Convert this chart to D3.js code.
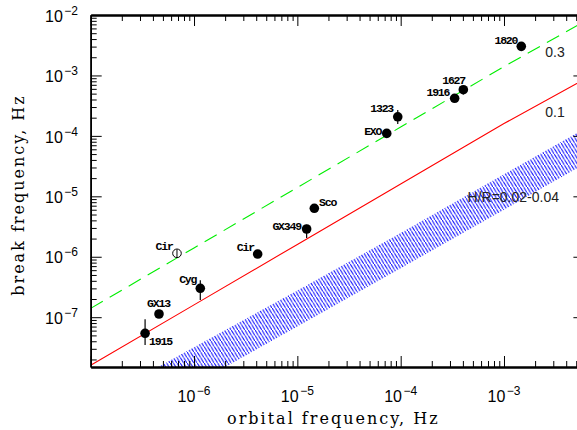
<!DOCTYPE html>
<html><head><meta charset="utf-8">
<script src="https://cdn.jsdelivr.net/npm/d3@7"></script>
<style>body{margin:0;background:#fff}svg{display:block}</style>
</head><body>
<svg id="c" width="577" height="430"></svg>
<script>
// ---- data ----
const sources   = ["1915","GX13","Cyg","Cir","Cir","GX349","Sco","EXO","1323","1916","1627","1820"];
const orbFreq   = [3.36e-7,4.58e-7,1.15e-6,6.84e-7,4.13e-6,1.23e-5,1.46e-5,7.33e-5,9.37e-5,3.33e-4,4.04e-4,1.47e-3];
const breakFreq = [5.42e-8,1.13e-7,3.01e-7,1.14e-6,1.11e-6,2.88e-6,6.34e-6,1.10e-4,2.07e-4,4.19e-4,5.81e-4,3.03e-3];
const breakLo   = [3.47e-8,null,1.93e-7,9.7e-7,null,2.04e-6,null,null,1.57e-4,null,4.84e-4,null];
const breakHi   = [9.25e-8,null,4.08e-7,1.32e-6,null,3.4e-6,null,null,2.68e-4,null,6.2e-4,null];
const openPoint = [false,false,false,true,false,false,false,false,false,false,false,false];

const modelX      = [1e-7,1e-6,1e-5,1e-4,1e-3,6e-3];
const modelHR03   = [1.4e-7,1.4e-6,1.4e-5,1.4e-4,1.4e-3,7.8e-3];
const modelHR01   = [1.6e-8,1.6e-7,1.6e-6,1.6e-5,1.6e-4,8.6e-4];
const bandUpper   = [3.66e-9,3.18e-8,2.77e-7,2.47e-6,2.31e-5,1.31e-4];
const bandLower   = [8.5e-10,7.7e-9,7.0e-8,6.46e-7,6.0e-6,3.43e-5];
const modelLabels = ["0.3","0.1","H/R=0.02-0.04"];

const xMajor = [1e-7,1e-6,1e-5,1e-4,1e-3];
const xTickLabels = ["","10","10","10","10"];
const xTickExp = ["","−6","−5","−4","−3"];
const yMajor = [1e-7,1e-6,1e-5,1e-4,1e-3,1e-2];
const yTickExp = ["−7","−6","−5","−4","−3","−2"];

// ---- layout ----
const L=90.7, R=584.4, T=15, B=367;
const labelOffsets = [[4,11.7,"start"],[-0.5,-7,"middle"],[-4,-5,"end"],[-4.3,-3.3,"end"],[-3.7,-3.5,"end"],
  [-5.7,1,"end"],[4.7,-2.3,"start"],[-5.5,1.5,"end"],[-4.7,-4.5,"end"],[-5.4,-2.3,"end"],[1.7,-5.7,"end"],[-4,-2.3,"end"]];

const svg = d3.select("#c");
const x = d3.scaleLog().domain([1e-7,6e-3]).range([L,R]);
const y = d3.scaleLog().domain([1.5e-8,1e-2]).range([B,T]);

const defs = svg.append("defs");
defs.append("clipPath").attr("id","clip").append("rect").attr("x",L).attr("y",T).attr("width",R-L).attr("height",B-T);
const pw=3.4, ph=5.5;
const pat = defs.append("pattern").attr("id","hatch").attr("patternUnits","userSpaceOnUse")
  .attr("width",pw).attr("height",ph);
pat.append("line").attr("x1",-0.5).attr("y1",-0.5*ph/pw).attr("x2",pw+0.5).attr("y2",ph+0.5*ph/pw)
  .attr("stroke","#0000ff").attr("stroke-width",1);

const plot = svg.append("g").attr("clip-path","url(#clip)");

// band
const area = d3.area().x(d=>x(d[0])).y0(d=>y(d[2])).y1(d=>y(d[1]));
plot.append("path").datum(modelX.map((v,i)=>[v,bandUpper[i],bandLower[i]]))
  .attr("d",area).attr("fill","url(#hatch)");

const line = d3.line().x(d=>x(d[0])).y(d=>y(d[1]));
plot.append("path").datum(modelX.map((v,i)=>[v,modelHR01[i]])).attr("d",line)
  .attr("fill","none").attr("stroke","#ff0000").attr("stroke-width",1.1);
plot.append("path").datum(modelX.map((v,i)=>[v,modelHR03[i]])).attr("d",line)
  .attr("fill","none").attr("stroke","#00ee00").attr("stroke-width",1.1).attr("stroke-dasharray","14,8");

// axes
function ax(gen, scale, vals, size){ return gen(scale).tickValues(vals).tickSizeInner(-size).tickSizeOuter(0).tickFormat(""); }
const minorX=[], minorY=[];
for(let e=-8;e<=-2;e++) for(let k=2;k<=9;k++){ const v=k*Math.pow(10,e); if(v>1e-7&&v<6e-3) minorX.push(v); if(v>1.5e-8&&v<1e-2) minorY.push(v); }
const axes = svg.append("g");
function minorOf(s){ return s===x?minorX:minorY; }
function draw(gen, tr, scale, maj, lw){
  const g1=axes.append("g").attr("transform",tr).call(ax(gen,scale,maj,11));
  const g2=axes.append("g").attr("transform",tr).call(ax(gen,scale,minorOf(scale),6));
  [g1,g2].forEach(g=>{g.selectAll(".tick line").attr("stroke","#000").attr("stroke-width",1);
    g.select(".domain").attr("stroke","#000").attr("stroke-width",lw);});
}
draw(d3.axisBottom,`translate(0,${B})`,x,xMajor,2);
draw(d3.axisTop,`translate(0,${T})`,x,xMajor,2);
draw(d3.axisLeft,`translate(${L},0)`,y,yMajor,1.6);
draw(d3.axisRight,`translate(${R},0)`,y,yMajor,1.6);

// tick labels
const tf = "'Liberation Sans', Arial, sans-serif";
xMajor.forEach((v,i)=>{ if(!xTickLabels[i]) return;
  const t=svg.append("text").attr("x",x(v)).attr("y",401.7).attr("text-anchor","middle")
    .attr("font-family",tf).attr("font-size",16).attr("fill","#000");
  t.append("tspan").text(xTickLabels[i]);
  t.append("tspan").attr("dx",1.5).attr("dy",-7).attr("font-size",12).text(xTickExp[i]);
});
yMajor.forEach((v,i)=>{
  const t=svg.append("text").attr("x",78).attr("y",y(v)+6.7).attr("text-anchor","end")
    .attr("font-family",tf).attr("font-size",16).attr("fill","#000");
  t.append("tspan").text("10");
  t.append("tspan").attr("dx",1.5).attr("dy",-7).attr("font-size",12).text(yTickExp[i]);
});

// axis titles
svg.append("text").attr("x",(L+576)/2).attr("y",424).attr("text-anchor","middle")
  .attr("font-family","'DejaVu Serif', serif").attr("font-size",16).attr("letter-spacing",2)
  .text("orbital frequency, Hz");
svg.append("text").attr("transform","translate(24,195) rotate(-90)").attr("text-anchor","middle")
  .attr("font-family","'DejaVu Serif', serif").attr("font-size",16).attr("letter-spacing",2)
  .text("break frequency, Hz");

// model labels
const ml = [[555,56.7,"middle"],[555,117,"middle"],[559,201.7,"end"]];
modelLabels.forEach((s,i)=>svg.append("text").attr("x",ml[i][0]).attr("y",ml[i][1]).attr("text-anchor",ml[i][2])
  .attr("font-family",tf).attr("font-size",14).attr("fill","#222").text(s));

// points
const pts = sources.map((s,i)=>({s,x:orbFreq[i],y:breakFreq[i],lo:breakLo[i],hi:breakHi[i],open:openPoint[i],o:labelOffsets[i]}));
const pg = svg.append("g");
pts.filter(d=>d.lo!==null && !d.open).forEach(d=>{
  pg.append("line").attr("x1",x(d.x)).attr("x2",x(d.x)).attr("y1",y(d.lo)).attr("y2",y(d.hi)).attr("stroke","#000").attr("stroke-width",1.2);
});
pg.selectAll("circle").data(pts).join("circle").attr("cx",d=>x(d.x)).attr("cy",d=>y(d.y)).attr("r",d=>d.open?4.3:4.8)
  .attr("fill",d=>d.open?"#fff":"#000").attr("stroke","#000").attr("stroke-width",d=>d.open?1:0);
pts.filter(d=>d.open).forEach(d=>{
  pg.append("line").attr("x1",x(d.x)).attr("x2",x(d.x)).attr("y1",y(d.lo)).attr("y2",y(d.hi)).attr("stroke","#000").attr("stroke-width",1);
});
pg.selectAll("text").data(pts).join("text").attr("x",d=>x(d.x)+d.o[0]).attr("y",d=>y(d.y)+d.o[1]).attr("text-anchor",d=>d.o[2])
  .attr("font-family","'Liberation Mono', monospace").attr("font-weight","bold").attr("font-size",11.5).attr("letter-spacing",-1.2)
  .text(d=>d.s);
</script>
</body></html>
